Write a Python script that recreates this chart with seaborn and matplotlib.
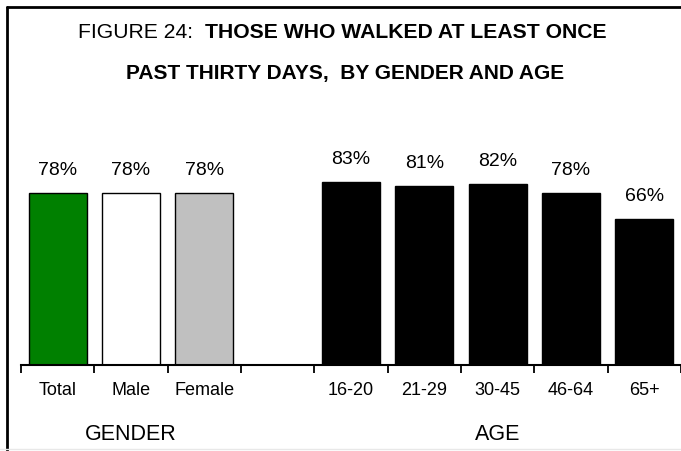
import numpy as np
import pandas as pd
import matplotlib
matplotlib.use("Agg")
import matplotlib.pyplot as plt
import matplotlib.transforms as mtransforms
from matplotlib.lines import Line2D
import seaborn as sns

categories = ["Total", "Male", "Female", "16-20", "21-29", "30-45", "46-64", "65+"]
values = [78, 78, 78, 83, 81, 82, 78, 66]
value_labels = ["78%", "78%", "78%", "83%", "81%", "82%", "78%", "66%"]
order = ["Total", "Male", "Female", " ", "16-20", "21-29", "30-45", "46-64", "65+"]
colors = ["#008000", "#FFFFFF", "#C0C0C0", "#000000", "#000000", "#000000", "#000000", "#000000"]
groups = ["GENDER", "AGE"]
group_centers = ["Male", "30-45"]
title_prefix = "FIGURE 24:  "
title_bold1 = "THOSE WHO WALKED AT LEAST ONCE"
title_line2 = "PAST THIRTY DAYS,  BY GENDER AND AGE"

sns.set_theme(style="white")
plt.rcParams["font.family"] = ["Liberation Sans Narrow", "Liberation Sans", "DejaVu Sans"]
plt.rcParams["text.color"] = "black"
plt.rcParams["xtick.color"] = "black"

W, H = 681, 451
fig = plt.figure(figsize=(W / 100, H / 100), dpi=100)
fig.patch.set_facecolor("white")

# axes placement (pixel based)
ax_left, ax_right = 21, 681
ax_bottom, ax_top = 365, 144
ax = fig.add_axes([ax_left / W, 1 - ax_bottom / H, (ax_right - ax_left) / W, (ax_bottom - ax_top) / H])

df = pd.DataFrame({"cat": categories, "val": values})
palette = dict(zip(categories, colors))
sns.barplot(data=df, x="cat", y="val", hue="cat", order=order, hue_order=categories,
            palette=palette, legend=False, width=0.79, edgecolor="black",
            linewidth=1.0, saturation=1, ax=ax)

ax.set_ylim(0, 100)
ax.set_xlim(-0.5, len(order) - 0.5)
ax.set_xlabel("")
ax.set_ylabel("")
ax.set_yticks([])
for s in ["left", "right", "top"]:
    ax.spines[s].set_visible(False)
ax.spines["bottom"].set_color("black")
ax.spines["bottom"].set_linewidth(1.5)
ax.set_facecolor("white")

ax.set_xticks(range(len(order)))
ax.set_xticklabels(order, fontsize=13, color="black")
ax.tick_params(axis="x", which="major", length=0, pad=12, colors="black")
ax.set_xticks(np.arange(-0.5, len(order), 1.0), minor=True)
ax.tick_params(axis="x", which="minor", length=6, width=1.3, color="black", direction="out", bottom=True)

for cat, v, lab in zip(categories, values, value_labels):
    xi = order.index(cat)
    ax.annotate(lab, (xi, v), xytext=(0, 10), textcoords="offset points",
                ha="center", va="bottom", fontsize=14, color="black")

trans = mtransforms.blended_transform_factory(ax.transData, fig.transFigure)
for g, c in zip(groups, group_centers):
    ax.text(order.index(c), 1 - 434 / H, g, transform=trans, ha="center", va="center",
            fontsize=15.5, color="black")

# title
renderer = fig.canvas.get_renderer()
y1 = 1 - 33 / H
t1 = fig.text(0, y1, title_prefix, fontsize=15.2, ha="left", va="center", color="black")
t2 = fig.text(0, y1, title_bold1, fontsize=15.2, fontweight="bold", ha="left", va="center", color="black")
w1 = t1.get_window_extent(renderer).width
w2 = t2.get_window_extent(renderer).width
start = 342 - (w1 + w2) / 2
t1.set_x(start / W)
t2.set_x((start + w1) / W)
fig.text(345 / W, 1 - 73 / H, title_line2, fontsize=15, fontweight="bold", ha="center", va="center",
         color="black")

# frame around figure
fig.add_artist(Line2D([7 / W, 7 / W], [0, 1 - 7 / H], transform=fig.transFigure, color="black", lw=2))
fig.add_artist(Line2D([7 / W, 1], [1 - 7 / H, 1 - 7 / H], transform=fig.transFigure, color="black", lw=2))
fig.add_artist(Line2D([0, 1], [1 - 449 / H, 1 - 449 / H], transform=fig.transFigure, color="#e8e8e8", lw=1))

fig.savefig("out.png", dpi=100, facecolor="white")
